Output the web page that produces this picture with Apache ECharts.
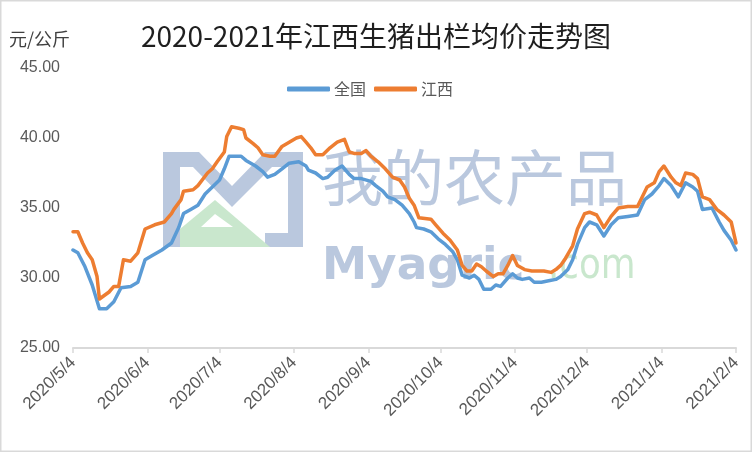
<!DOCTYPE html>
<html>
<head>
<meta charset="utf-8">
<script src="https://cdn.jsdelivr.net/npm/echarts@6/dist/echarts.min.js"></script>
<style>
html,body{margin:0;padding:0;background:#fff;}
#chart{width:752px;height:452px;}
</style>
</head>
<body>
<div id="chart"></div>
<script>
// ---- Data ----
const axisStart = '2020/5/4';
const axisEnd = '2021/2/4';
const tickLabels = ['2020/5/4','2020/6/4','2020/7/4','2020/8/4','2020/9/4','2020/10/4','2020/11/4','2020/12/4','2021/1/4','2021/2/4'];
const seriesNames = ['全国', '江西'];

const nationalDates = ['2020/5/4','2020/5/6','2020/5/9','2020/5/12','2020/5/15','2020/5/18','2020/5/21','2020/5/24','2020/5/28','2020/5/31',
  '2020/6/3','2020/6/6','2020/6/10','2020/6/14','2020/6/17','2020/6/19','2020/6/22','2020/6/25','2020/6/28',
  '2020/7/1','2020/7/4','2020/7/6','2020/7/8','2020/7/10','2020/7/13','2020/7/15','2020/7/19','2020/7/22','2020/7/24','2020/7/27','2020/7/30',
  '2020/8/2','2020/8/6','2020/8/9','2020/8/10','2020/8/13','2020/8/16','2020/8/18','2020/8/21','2020/8/24','2020/8/27','2020/8/29',
  '2020/9/1','2020/9/5','2020/9/7','2020/9/10','2020/9/12','2020/9/15','2020/9/18','2020/9/21','2020/9/23','2020/9/24','2020/9/27','2020/9/30',
  '2020/10/3','2020/10/6','2020/10/9','2020/10/11','2020/10/13','2020/10/16','2020/10/18','2020/10/20','2020/10/22','2020/10/25','2020/10/27','2020/10/29',
  '2020/11/1','2020/11/3','2020/11/5','2020/11/7','2020/11/10','2020/11/12','2020/11/15','2020/11/18','2020/11/21','2020/11/23','2020/11/26','2020/11/28','2020/11/30',
  '2020/12/3','2020/12/5','2020/12/8','2020/12/11','2020/12/14','2020/12/17','2020/12/21','2020/12/25','2020/12/28','2020/12/31',
  '2021/1/3','2021/1/5','2021/1/8','2021/1/11','2021/1/14','2021/1/17','2021/1/19','2021/1/21','2021/1/25','2021/1/28','2021/1/30',
  '2021/2/2','2021/2/4'];
const nationalValues = [32.0,31.8,30.8,29.5,27.8,27.8,28.3,29.3,29.4,29.7,
  31.3,31.6,32.0,32.5,33.6,34.6,34.9,35.2,36.0,
  36.5,37.0,37.8,38.7,38.7,38.7,38.4,38.0,37.6,37.2,37.4,37.8,
  38.2,38.3,38.0,37.7,37.5,37.1,37.2,37.7,38.0,37.4,37.1,
  37.1,36.9,36.6,36.2,35.8,35.6,35.2,34.6,34.0,33.6,33.5,33.3,
  32.8,32.4,31.9,31.3,30.2,30.0,30.2,29.9,29.2,29.2,29.5,29.4,
  30.0,30.3,30.0,29.9,30.0,29.7,29.7,29.8,29.9,30.1,30.6,31.3,32.4,
  33.6,34.0,33.8,33.0,33.8,34.3,34.4,34.5,35.6,36.0,
  36.6,37.1,36.6,35.8,36.8,36.5,36.2,34.9,35.0,34.0,33.4,
  32.7,32.0];

const jiangxiDates = ['2020/5/4','2020/5/6','2020/5/8','2020/5/10','2020/5/12','2020/5/14','2020/5/15','2020/5/19','2020/5/21','2020/5/23','2020/5/25','2020/5/28','2020/5/31',
  '2020/6/3','2020/6/7','2020/6/11','2020/6/14','2020/6/15','2020/6/18','2020/6/19','2020/6/23','2020/6/25','2020/6/29',
  '2020/7/1','2020/7/3','2020/7/6','2020/7/7','2020/7/9','2020/7/12','2020/7/14','2020/7/15','2020/7/18','2020/7/20','2020/7/22','2020/7/25','2020/7/27','2020/7/30',
  '2020/8/2','2020/8/5','2020/8/7','2020/8/9','2020/8/11','2020/8/13','2020/8/16','2020/8/19','2020/8/22','2020/8/25','2020/8/27','2020/8/29',
  '2020/9/1','2020/9/3','2020/9/5','2020/9/8','2020/9/11','2020/9/14','2020/9/17','2020/9/19','2020/9/21','2020/9/23','2020/9/25','2020/9/30',
  '2020/10/2','2020/10/5','2020/10/8','2020/10/11','2020/10/13','2020/10/15','2020/10/17','2020/10/19','2020/10/21','2020/10/23','2020/10/26','2020/10/28','2020/10/30',
  '2020/11/1','2020/11/3','2020/11/5','2020/11/8','2020/11/11','2020/11/14','2020/11/16','2020/11/19','2020/11/21','2020/11/23','2020/11/25','2020/11/28','2020/11/30',
  '2020/12/3','2020/12/5','2020/12/8','2020/12/11','2020/12/14','2020/12/17','2020/12/21','2020/12/25','2020/12/27','2020/12/29',
  '2021/1/1','2021/1/3','2021/1/5','2021/1/8','2021/1/10','2021/1/12','2021/1/14','2021/1/17','2021/1/19','2021/1/21','2021/1/24','2021/1/27','2021/1/30',
  '2021/2/2','2021/2/4'];
const jiangxiValues = [33.3,33.3,32.5,31.8,31.3,30.1,28.5,29.0,29.4,29.4,31.3,31.2,31.8,
  33.5,33.8,34.0,34.6,34.9,35.6,36.2,36.3,36.6,37.5,
  37.8,38.3,39.0,40.1,40.8,40.7,40.6,40.0,39.6,39.3,38.8,38.7,38.7,39.4,
  39.7,40.0,40.1,39.7,39.3,38.8,38.8,39.3,39.7,39.9,39.0,38.9,
  38.9,39.1,38.7,38.3,37.8,37.2,37.0,36.5,35.7,35.2,34.3,34.2,
  33.8,33.2,32.7,32.0,30.9,30.5,30.5,31.0,30.8,30.5,30.1,30.3,30.3,
  30.9,31.6,30.9,30.6,30.5,30.5,30.5,30.4,30.6,30.9,31.4,32.3,33.5,
  34.6,34.7,34.5,33.6,34.4,35.0,35.1,35.1,35.8,36.5,
  36.8,37.6,38.0,37.2,36.8,36.6,37.5,37.4,37.1,35.8,35.6,34.9,34.5,
  34.0,32.5];

// ---- Build daily category axis ----
function fmt(d){ return d.getFullYear() + '/' + (d.getMonth()+1) + '/' + d.getDate(); }
const categories = [];
(function(){
  const p0 = axisStart.split('/').map(Number), p1 = axisEnd.split('/').map(Number);
  const d = new Date(p0[0], p0[1]-1, p0[2], 12);
  const e = new Date(p1[0], p1[1]-1, p1[2], 12);
  while (d <= e) { categories.push(fmt(d)); d.setDate(d.getDate()+1); }
})();
const pair = (ds, vs) => ds.map((t, i) => [t, vs[i]]);
const showTick = (i, v) => tickLabels.indexOf(v) >= 0;

const WM_BLUE = '#bac8de';
const WM_GREEN = '#c9e7cd';

const chart = echarts.init(document.getElementById('chart'), null, {renderer: 'canvas'});
chart.setOption({
  backgroundColor: '#ffffff',
  animation: false,
  title: {
    text: '2020-2021年江西生猪出栏均价走势图',
    left: 'center',
    top: 17,
    textStyle: {fontFamily: 'Noto Sans CJK SC', fontSize: 28, fontWeight: 'normal', color: '#1f1f1f'}
  },
  legend: {
    data: seriesNames,
    left: 282,
    top: 76,
    icon: 'roundRect',
    itemWidth: 43,
    itemHeight: 5,
    itemGap: 8,
    textStyle: {fontFamily: 'Noto Sans CJK SC', fontSize: 16, color: '#595959', padding: [0, 0, 0, -1]}
  },
  grid: {left: 73, right: 16, top: 68, bottom: 104},
  xAxis: {
    type: 'category',
    data: categories,
    boundaryGap: false,
    axisLine: {lineStyle: {color: '#d9d9d9', width: 2}},
    axisTick: {show: true, interval: showTick, length: 5, lineStyle: {color: '#d9d9d9', width: 1.5}},
    axisLabel: {interval: showTick, rotate: 45, margin: 12, fontFamily: 'Liberation Sans', fontSize: 17, color: '#595959'},
    splitLine: {show: false}
  },
  yAxis: {
    type: 'value',
    min: 25, max: 45, interval: 5,
    axisLine: {show: false},
    axisTick: {show: false},
    splitLine: {show: false},
    axisLabel: {margin: 13, fontFamily: 'Liberation Sans', fontSize: 16, color: '#595959', formatter: v => v.toFixed(2)}
  },
  graphic: [
    {type: 'rect', z: 100, shape: {x: 0.75, y: 0.75, width: 750.5, height: 450.5}, style: {fill: 'none', stroke: '#d9d9d9', lineWidth: 1.5}, silent: true},
    {type: 'text', left: 9, top: 30, style: {text: '元/公斤', fontFamily: 'Noto Sans CJK SC', fontSize: 18, fill: '#404040'}},
    // watermark logo
    {type: 'polygon', z: -1, silent: true, shape: {points: [[163,152],[199,152],[232,186],[265,152],[303,152],[303,247],[265,247],[265,233],[288,233],[288,167],[272,167],[232,207],[193,167],[180,167],[180,247],[163,247]]}, style: {fill: WM_BLUE}},
    {type: 'polygon', z: -1, silent: true, shape: {points: [[180,247],[180,229],[215,200],[270,247]]}, style: {fill: WM_GREEN}},
    {type: 'polygon', z: -1, silent: true, shape: {points: [[201,227],[215,214],[233,227]]}, style: {fill: '#ffffff'}},
    {type: 'text', z: -1, silent: true, x: 322, y: 178, style: {text: '我的农产品', fontFamily: 'Noto Sans CJK SC', fontSize: 61, fill: WM_BLUE, verticalAlign: 'middle'}},
    {type: 'text', z: -1, silent: true, x: 322, y: 246, scaleX: 1.03, style: {text: 'Myagric', fontFamily: 'DejaVu Sans', fontWeight: 'bold', fontSize: 44, fill: WM_BLUE, verticalAlign: 'alphabetic'}},
    {type: 'text', z: -1, silent: true, x: 548, y: 246, scaleX: 0.85, style: {text: '.com', fontFamily: 'DejaVu Sans', fontSize: 42, fill: WM_GREEN, verticalAlign: 'alphabetic'}}
  ],
  series: [
    {
      name: seriesNames[0], type: 'line', data: pair(nationalDates, nationalValues),
      showSymbol: false, symbol: 'none', smooth: false, z: 3,
      lineStyle: {color: '#5b9bd5', width: 3.5, cap: 'round', join: 'round'},
      itemStyle: {color: '#5b9bd5'}
    },
    {
      name: seriesNames[1], type: 'line', data: pair(jiangxiDates, jiangxiValues),
      showSymbol: false, symbol: 'none', smooth: false, z: 4,
      lineStyle: {color: '#ed7d31', width: 3.5, cap: 'round', join: 'round'},
      itemStyle: {color: '#ed7d31'}
    }
  ]
});
</script>
</body>
</html>
